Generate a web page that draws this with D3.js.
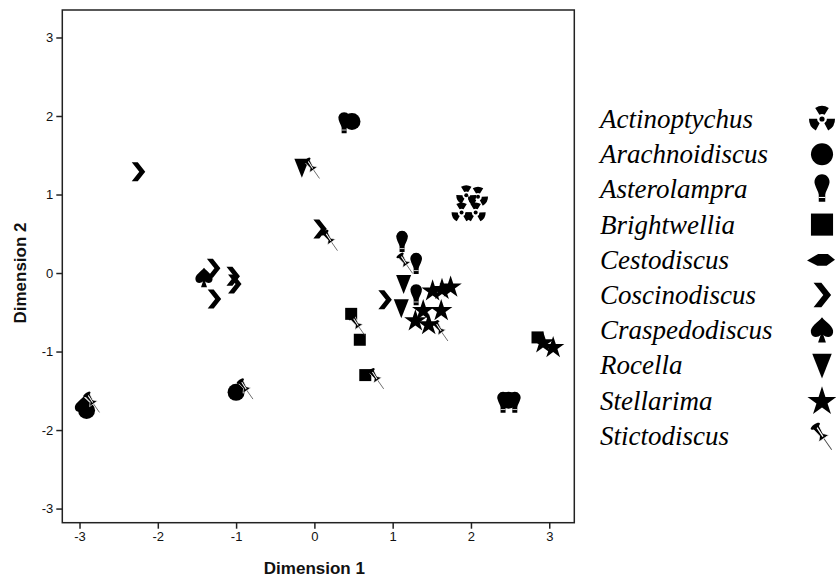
<!DOCTYPE html>
<html>
<head>
<meta charset="utf-8">
<script src="https://cdn.jsdelivr.net/npm/d3@7"></script>
<style>
  body { margin: 0; background: #fff; }
  .tick text { font-family: Arial, "Liberation Sans", sans-serif; font-size: 13px; fill: #111; }
  .tick line { stroke: #222; stroke-width: 1.5; }
  .axis-label { font-family: Arial, "Liberation Sans", sans-serif; font-size: 17px; font-weight: bold; fill: #111; }
  .legend-text { font-family: "Liberation Serif", "Times New Roman", serif; font-style: italic; font-size: 27px; fill: #000; }
</style>
</head>
<body>
<div id="chart"></div>
<script>
// species names, legend order
const speciesNames = ['Actinoptychus', 'Arachnoidiscus', 'Asterolampra', 'Brightwellia', 'Cestodiscus',
  'Coscinodiscus', 'Craspedodiscus', 'Rocella', 'Stellarima', 'Stictodiscus']

// point coordinates [dimension1, dimension2] per species
const actinoptychus = [[1.94, 0.99], [2.09, 0.97], [1.88, 0.77], [2.06, 0.77]]
const arachnoidiscus = [[0.48, 1.93], [-2.91, -1.75], [-1.00, -1.52], [2.48, -1.62]]
const asterolampra = [[0.38, 1.90], [1.12, 0.39], [1.30, 0.11], [1.30, -0.29], [2.41, -1.66], [2.56, -1.66]]
const brightwellia = [[0.47, -0.52], [0.58, -0.85], [0.65, -1.30], [2.85, -0.82]]
const cestodiscus = []
const coscinodiscus = [[-2.25, 1.29], [-1.29, 0.06], [-1.04, -0.04], [-1.02, -0.14], [-1.28, -0.33], [0.90, -0.34], [0.07, 0.56]]
const craspedodiscus = [[-1.41, -0.06], [-2.95, -1.70]]
const rocella = [[-0.16, 1.34], [1.14, -0.14], [1.11, -0.45]]
const stellarima = [[1.51, -0.22], [1.63, -0.20], [1.74, -0.17], [1.62, -0.47], [1.39, -0.47], [1.29, -0.60], [1.46, -0.65], [2.92, -0.88], [3.05, -0.94]]
const stictodiscus = [[-0.03, 1.34], [0.20, 0.42], [1.16, 0.13], [1.61, -0.73], [0.55, -0.66], [0.79, -1.34], [-0.88, -1.47], [-2.84, -1.64]]

const xTicks = [-3, -2, -1, 0, 1, 2, 3]
const yTicks = [-3, -2, -1, 0, 1, 2, 3]

const pointSets = [actinoptychus, arachnoidiscus, asterolampra, brightwellia, cestodiscus,
  coscinodiscus, craspedodiscus, rocella, stellarima, stictodiscus]

const width = 836, height = 581
const frame = { left: 62.3, right: 574.3, top: 10, bottom: 522.7 }

const svg = d3.select('#chart').append('svg')
  .attr('width', width)
  .attr('height', height)

const xScale = d3.scaleLinear().domain([-3.22, 3.32]).range([frame.left, frame.right])
const yScale = d3.scaleLinear().domain([-3.18, 3.35]).range([frame.bottom, frame.top])

// draws a unit-sized symbol into g (radius ~1), scaled by s
function drawSymbol(g, name, s, inLegend) {
  const k = g.append('g').attr('transform', `scale(${s})`)
  switch (name) {
    case 'Actinoptychus': {
      const arc = d3.arc().innerRadius(0.38).outerRadius(1)
      ;[0, 120, 240].forEach(a => {
        const r = a * Math.PI / 180
        k.append('path')
          .attr('d', arc({ startAngle: r - 0.55, endAngle: r + 0.55 }))
          .attr('fill', '#000')
      })
      k.append('circle').attr('r', 0.2).attr('fill', '#000')
      break
    }
    case 'Arachnoidiscus':
      k.append('circle').attr('r', 0.85).attr('fill', '#000')
      break
    case 'Asterolampra':
      k.append('path')
        .attr('d', 'M-0.55,-0.4 A0.58,0.58 0 1 1 0.55,-0.4 C0.45,-0.05 0.28,0.15 0.25,0.4 L0.25,0.95 L-0.25,0.95 L-0.25,0.4 C-0.28,0.15 -0.45,-0.05 -0.55,-0.4 Z')
        .attr('fill', '#000')
      k.append('line').attr('x1', -0.25).attr('x2', 0.25).attr('y1', 0.62).attr('y2', 0.62)
        .attr('stroke', '#fff').attr('stroke-width', 0.08)
      break
    case 'Brightwellia': {
      const h = inLegend ? 0.85 : 0.6
      k.append('rect').attr('x', -h).attr('y', -h).attr('width', 2 * h).attr('height', 2 * h).attr('fill', '#000')
      break
    }
    case 'Cestodiscus':
      k.append('path').attr('d', 'M-1.15,0.05 L-0.3,-0.45 L0.45,-0.45 L1,0 L0.35,0.45 L-0.35,0.45 Z').attr('fill', '#000')
      break
    case 'Coscinodiscus':
      k.append('path').attr('d', 'M-0.65,-0.95 L-0.05,-0.95 L0.7,0 L-0.05,0.95 L-0.65,0.95 L0.1,0 Z').attr('fill', '#000')
      break
    case 'Craspedodiscus':
      k.append('path')
        .attr('d', 'M0,-1 C0.3,-0.6 0.95,-0.3 0.85,0.2 C0.78,0.6 0.3,0.6 0.1,0.35 L0.3,0.95 L-0.3,0.95 L-0.1,0.35 C-0.3,0.6 -0.78,0.6 -0.85,0.2 C-0.95,-0.3 -0.3,-0.6 0,-1 Z')
        .attr('fill', '#000')
      break
    case 'Rocella':
      k.append('path').attr('d', 'M-0.75,-0.9 L0.75,-0.9 L0,1 Z').attr('fill', '#000')
      break
    case 'Stellarima':
      k.append('path').attr('d', d3.symbol(d3.symbolStar, 1.55)()).attr('transform', 'translate(0,0.08)').attr('fill', '#000')
      break
    case 'Stictodiscus': {
      const p = k.append('g').attr('transform', 'rotate(-35)')
      p.append('line').attr('x1', 0).attr('y1', 0.2).attr('x2', 0).attr('y2', 1.3)
        .attr('stroke', '#444').attr('stroke-width', 0.07)
      p.append('path')
        .attr('d', 'M-0.28,-0.85 L0.28,-0.85 L0.16,-0.1 L0.48,0.25 L-0.48,0.25 L-0.16,-0.1 Z')
        .attr('fill', '#000').attr('stroke', '#fff').attr('stroke-width', 0.06)
      p.append('line').attr('x1', 0.05).attr('y1', -0.75).attr('x2', 0.02).attr('y2', 0.1)
        .attr('stroke', '#fff').attr('stroke-width', 0.1)
      p.append('ellipse').attr('cx', 0).attr('cy', -0.9).attr('rx', 0.42).attr('ry', 0.16).attr('fill', '#000')
      break
    }
  }
}

// frame
svg.append('rect')
  .attr('x', frame.left).attr('y', frame.top)
  .attr('width', frame.right - frame.left).attr('height', frame.bottom - frame.top)
  .attr('fill', 'none').attr('stroke', '#222').attr('stroke-width', 1.5)

const xAxis = svg.append('g')
  .attr('transform', `translate(0, ${frame.bottom})`)
  .call(d3.axisBottom(xScale).tickValues(xTicks).tickFormat(d3.format('d')).tickSize(6).tickSizeOuter(0))
xAxis.select('.domain').remove()

const yAxis = svg.append('g')
  .attr('transform', `translate(${frame.left}, 0)`)
  .call(d3.axisLeft(yScale).tickValues(yTicks).tickFormat(d3.format('d')).tickSize(6).tickSizeOuter(0))
yAxis.select('.domain').remove()
// use plain hyphen for minus like the original
svg.selectAll('.tick text').text(d => String(d))

svg.append('text')
  .attr('class', 'axis-label')
  .attr('text-anchor', 'middle')
  .attr('x', xScale(0))
  .attr('y', 574)
  .text('Dimension 1')

svg.append('text')
  .attr('class', 'axis-label')
  .attr('text-anchor', 'middle')
  .attr('transform', `translate(26, ${yScale(0)}) rotate(-90)`)
  .text('Dimension 2')

// points
const plot = svg.append('g')
speciesNames.forEach((name, i) => {
  plot.selectAll(`.pt-${i}`)
    .data(pointSets[i])
    .enter()
    .append('g')
    .attr('class', `pt-${i}`)
    .attr('transform', d => `translate(${xScale(d[0])}, ${yScale(d[1])})`)
    .each(function () { drawSymbol(d3.select(this), name, 10, false) })
})

// legend
const legend = svg.append('g')
speciesNames.forEach((name, i) => {
  const y = 120 + i * 35.2
  legend.append('text')
    .attr('class', 'legend-text')
    .attr('x', 600)
    .attr('y', y + 8)
    .text(name)
  const g = legend.append('g').attr('transform', `translate(822, ${y - 1})`)
  drawSymbol(g, name, 13, true)
})
</script>
</body>
</html>
